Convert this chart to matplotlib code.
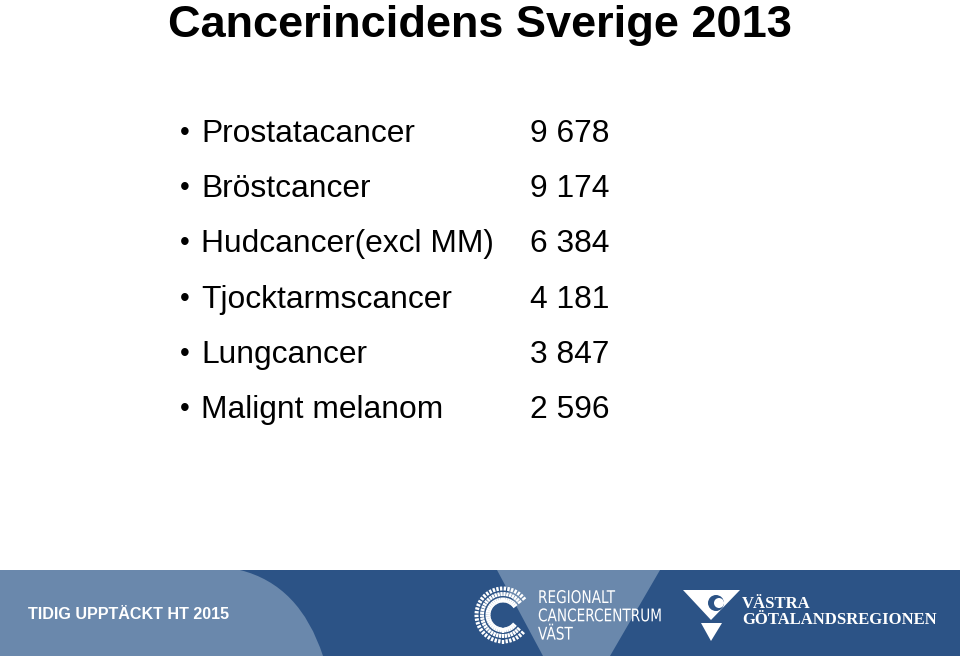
import numpy as np
import matplotlib.pyplot as plt
from matplotlib.patches import Polygon, Rectangle, PathPatch, Circle
from matplotlib.path import Path
from matplotlib.textpath import TextPath
from matplotlib.font_manager import FontProperties
from matplotlib.transforms import Affine2D

title = "Cancerincidens Sverige 2013"
cancer_types = ["Prostatacancer", "Bröstcancer", "Hudcancer(excl MM)",
                "Tjocktarmscancer", "Lungcancer", "Malignt melanom"]
cases = [9678, 9174, 6384, 4181, 3847, 2596]
footer = "TIDIG UPPTÄCKT HT 2015"
rcc_lines = ["REGIONALT", "CANCERCENTRUM", "VÄST"]
vgr_name = "VÄSTRA\nGÖTALANDSREGIONEN"

dark = "#2C5386"
light = "#6A88AC"

fig = plt.figure(figsize=(9.6, 6.56), dpi=100)
ax = fig.add_axes([0, 0, 1, 1])
ax.set_xlim(0, 960)
ax.set_ylim(656, 0)
ax.axis("off")

sans = ["Liberation Sans", "DejaVu Sans"]

ax.text(168, 36.5, title, fontsize=32.5, fontweight="bold", family=sans,
        ha="left", va="baseline")

row_y = 142
for name, n in zip(cancer_types, cases):
    ax.text(180, row_y - 2, "•", fontsize=20, family=sans, va="baseline")
    ax.text(201, row_y, name, fontsize=22.9, family=sans, va="baseline")
    ax.text(530, row_y, f"{n:,}".replace(",", " "), fontsize=22.9,
            family=sans, va="baseline")
    row_y += 55.2

# footer band
ax.add_patch(Rectangle((0, 570), 960, 86, color=dark, lw=0))
verts = [(0, 570), (240, 570), (300, 585), (323, 656), (0, 656), (0, 570)]
codes = [Path.MOVETO, Path.LINETO, Path.CURVE3, Path.CURVE3,
         Path.LINETO, Path.CLOSEPOLY]
ax.add_patch(PathPatch(Path(verts, codes), color=light, lw=0))
ax.add_patch(Polygon([(497, 570), (660, 570), (610, 656), (543, 656)],
                     color=light, lw=0))

ax.text(28, 619, footer, fontsize=11.6, fontweight="bold", color="white",
        family=sans, va="baseline")

# RCC logo: ring of radial dashes, open on the right
cx, cy = 503, 615
for a in np.arange(38, 323, 8):
    t = np.deg2rad(a)
    for r0, r1 in [(12.5, 17.5), (19, 23), (24.5, 28.5)]:
        ax.plot([cx + r0 * np.cos(t), cx + r1 * np.cos(t)],
                [cy - r0 * np.sin(t), cy - r1 * np.sin(t)],
                color="white", lw=1.7, solid_capstyle="butt")

# condensed text for the RCC name
fp = FontProperties(family="DejaVu Sans")
base = 603
for line in rcc_lines:
    tp = TextPath((0, 0), line, size=17.5, prop=fp)
    tr = Affine2D().scale(0.78, -1).translate(538, base)
    ax.add_patch(PathPatch(tr.transform_path(tp), color="white", lw=0))
    base += 18.3

# VGR logo
ax.add_patch(Polygon([(683, 590), (740, 590), (711, 620)], color="white", lw=0))
ax.add_patch(Polygon([(701, 623), (722, 623), (711, 641)], color="white", lw=0))
ax.add_patch(Circle((716, 603), 8, color=dark, lw=0))
ax.add_patch(Circle((719, 603), 5, color="white", lw=0))
ax.text(742, 596, vgr_name, fontsize=12, fontweight="bold", color="white",
        va="top", linespacing=1.0, family=["Liberation Serif", "DejaVu Serif"])

fig.savefig("out.png", dpi=100)
